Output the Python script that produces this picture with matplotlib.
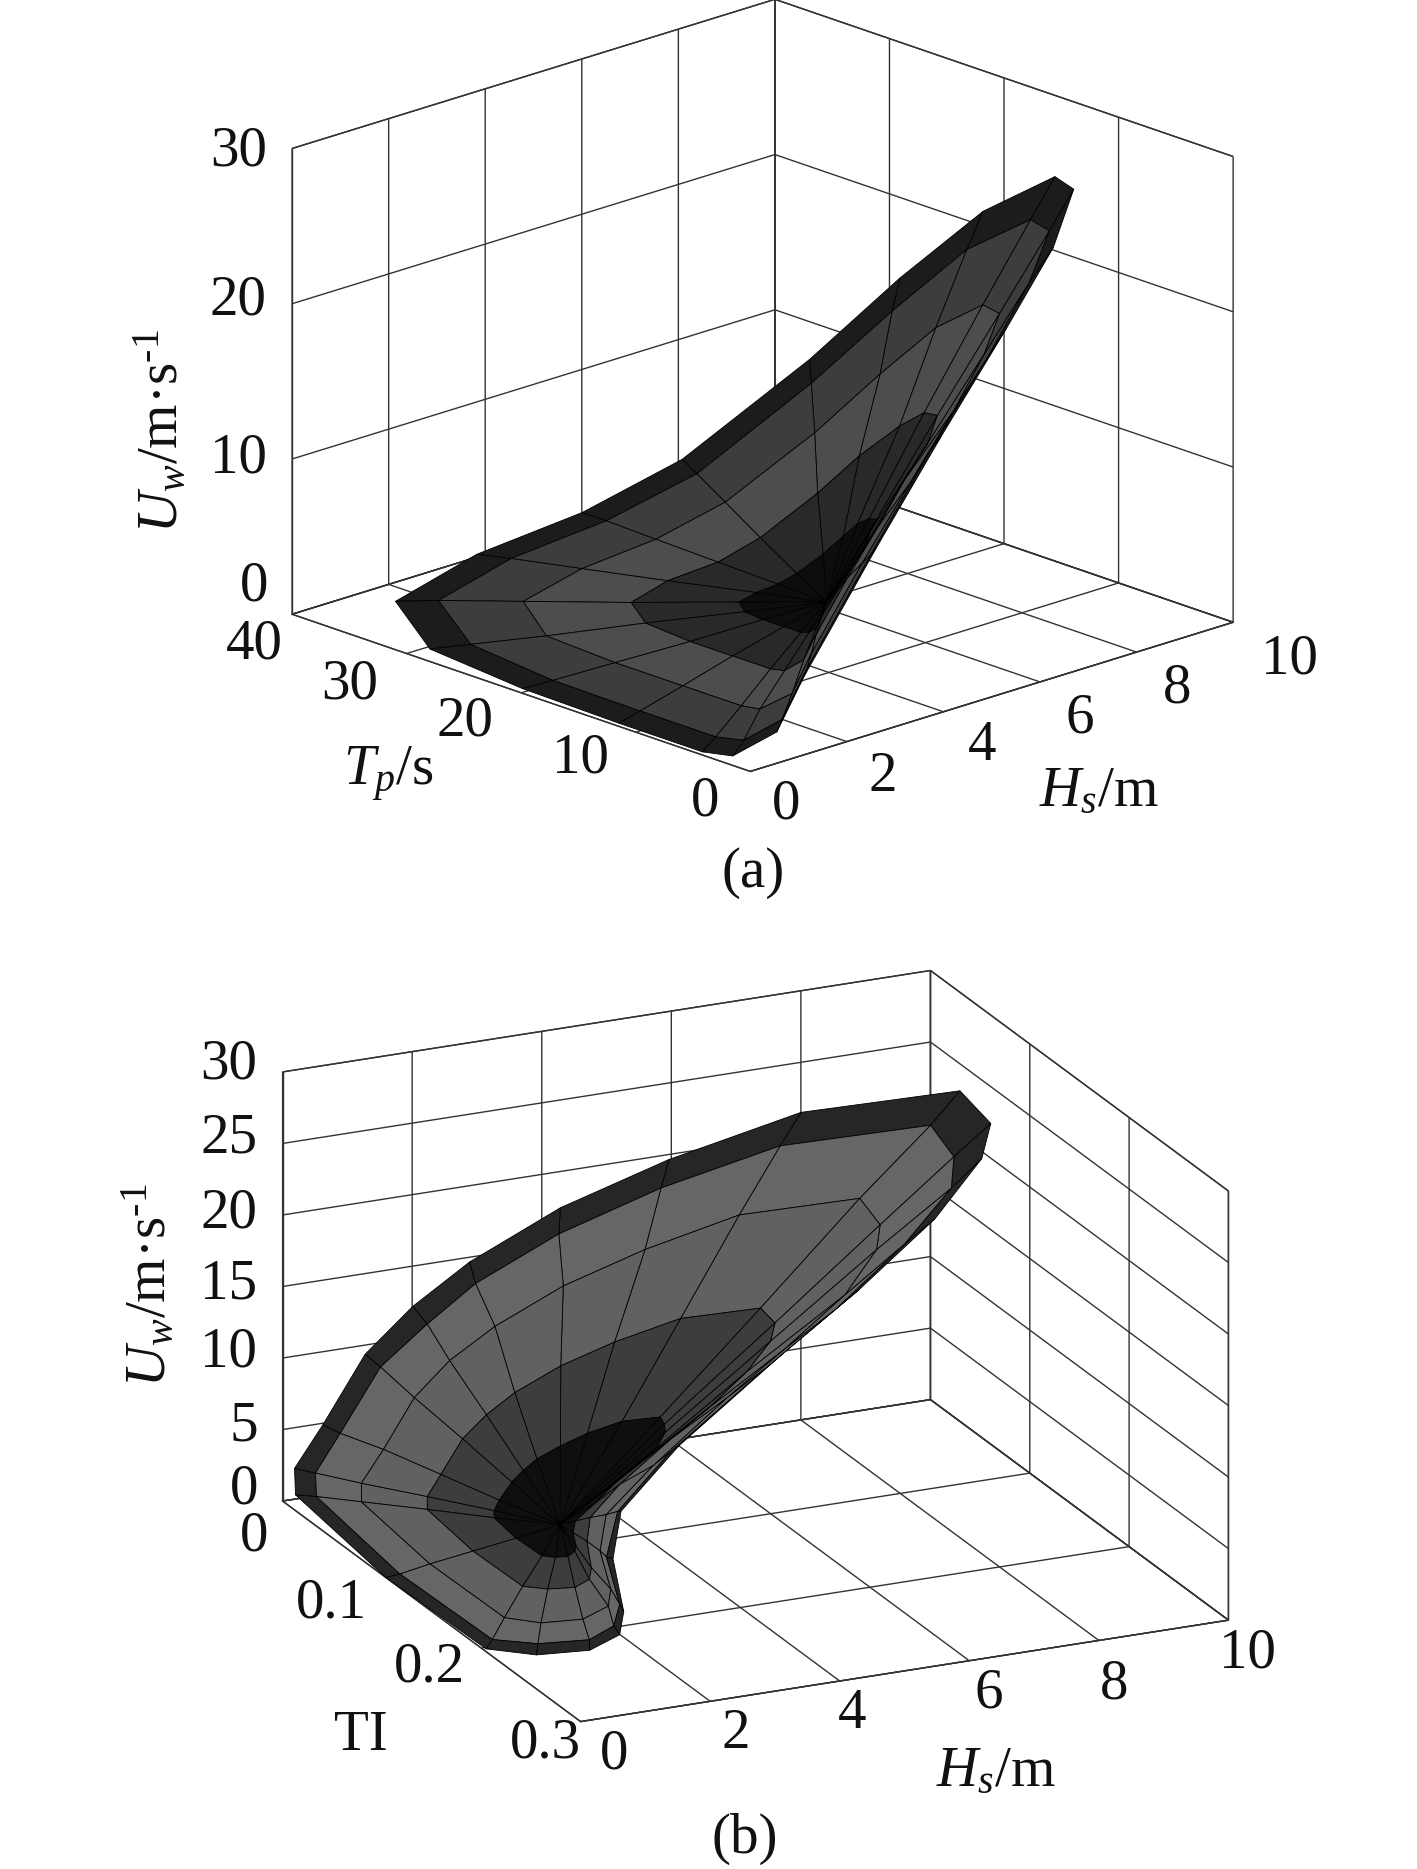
"""
Two 3D surfaces of wind speed against wave parameters.
Node values are hand read off the picture, so the mesh is coarser than the original one.
"""

import numpy as np
import matplotlib
matplotlib.use("Agg")
import matplotlib.pyplot as plt

plt.rcParams["font.family"] = ["Liberation Serif", "DejaVu Serif"]
plt.rcParams["mathtext.fontset"] = "custom"
plt.rcParams["mathtext.rm"] = "Liberation Serif"
plt.rcParams["mathtext.it"] = "Liberation Serif:italic"

# panel (a): rings around the pole, pole first, outline last
a_hs = [
    [3.0]*20,
    [4.2,4.1,4.0,3.8,3.5,3.0,2.6,2.5,2.4,2.4,2.4,2.4,2.5,2.7,2.9,3.1,3.5,3.8,4.0,4.1],
    [5.7,5.5,5.1,4.7,4.1,3.0,2.1,1.8,1.7,1.7,1.7,1.7,1.9,2.3,2.8,3.2,4.1,4.7,5.3,5.5],
    [7.2,6.9,6.4,5.7,4.75,3.0,1.6,1.1,1.0,1.0,1.0,1.0,1.3,1.95,2.65,3.35,4.75,5.7,6.5,7.0],
    [8.4,8.0,7.3,6.4,5.25,3.0,1.2,0.6,0.4,0.4,0.4,0.5,0.85,1.65,2.55,3.45,5.25,6.4,7.5,8.2],
    [9.0,8.6,7.8,6.8,5.5,3.0,1.0,0.3,0.1,0.1,0.1,0.2,0.6,1.5,2.5,3.5,5.5,6.8,8.0,8.8],
]
a_tp = [
    [6.0]*20,
    [6.7,6.8,6.9,7.2,7.2,6.4,5.2,5.4,5.7,7.2,9.0,10.6,11.5,10.8,9.8,9.0,8.4,7.9,7.5,6.9],
    [7.7,7.7,8.0,8.7,8.8,6.9,4.2,4.6,5.4,8.7,12.4,16.3,18.4,16.9,14.6,12.6,11.4,10.3,9.3,8.0],
    [8.6,8.7,9.2,10.2,10.3,7.3,3.1,3.8,5.0,10.1,16.0,22.0,25.3,22.9,19.4,16.3,14.4,12.7,11.2,9.2],
    [9.3,9.4,10.0,11.4,11.6,7.7,2.3,3.1,4.7,11.3,18.9,26.5,30.8,27.8,23.3,19.2,16.8,14.6,12.7,10.1],
    [9.7,9.8,10.5,12.0,12.2,7.9,1.9,2.8,4.6,11.9,20.3,28.8,33.5,30.2,25.2,20.7,18.0,15.6,13.4,10.5],
]
a_uw = [
    [6.5]*20,
    [10.5,9.8,8.9,7.6,6.4,5.5,5.4,5.2,5.2,5.2,5.2,5.3,5.6,6.2,6.8,7.5,8.5,9.5,10.2,10.6],
    [15.5,13.9,11.9,9.0,6.3,4.2,4.1,3.6,3.6,3.6,3.6,3.8,4.4,5.8,7.1,8.8,11.1,13.2,14.8,15.8],
    [20.4,18.0,14.8,10.4,6.2,2.9,2.7,2.0,2.0,2.0,2.0,2.2,3.3,5.4,7.5,10.0,13.6,16.9,19.5,21.0],
    [24.4,21.4,17.2,11.5,6.0,1.8,1.6,0.65,0.65,0.65,0.7,1.0,2.4,5.1,7.8,11.0,15.7,19.8,23.2,25.1],
    [26.4,23.0,18.4,12.0,6.0,1.3,1.1,0.0,0.0,0.0,0.1,0.4,1.9,4.9,7.9,11.5,16.7,21.3,25.0,27.2],
]

# panel (b)
b_hs = [
    [1.8]*24,
    [3.5,3.5,3.4,3.1,2.8,2.5,2.2,2.0,1.85,1.75,1.6,1.5,1.35,1.35,1.35,1.35,1.4,1.5,1.6,1.75,2.05,2.45,3.0,3.5],
    [5.3,5.2,4.9,4.4,3.8,3.1,2.6,2.2,1.9,1.7,1.4,1.15,0.9,0.9,0.9,0.9,1.05,1.2,1.4,1.7,2.3,3.1,4.15,5.2],
    [7.0,6.9,6.5,5.7,4.8,3.8,3.0,2.4,2.0,1.7,1.2,0.8,0.45,0.45,0.45,0.45,0.7,0.9,1.2,1.7,2.6,3.8,5.3,6.9],
    [8.2,8.1,7.5,6.6,5.5,4.2,3.3,2.5,2.0,1.6,1.1,0.6,0.14,0.14,0.14,0.14,0.4,0.7,1.1,1.6,2.7,4.2,6.1,8.1],
    [8.8,8.6,8.0,7.0,5.8,4.4,3.4,2.6,2.0,1.6,1.0,0.5,0.0,0.0,0.0,0.0,0.3,0.6,1.0,1.6,2.8,4.4,6.5,8.6],
]
b_ti = [
    [0.162]*24,
    [.156,.157,.155,.153,.153,.15,.151,.162,.175,.18,.183,.177,.173,.147,.125,.125,.127,.133,.138,.142,.146,.147,.146,.152],
    [.15,.152,.148,.143,.143,.137,.14,.163,.187,.198,.203,.192,.183,.133,.087,.087,.091,.103,.114,.123,.13,.132,.13,.142],
    [.145,.148,.142,.134,.135,.125,.13,.163,.2,.217,.224,.208,.194,.119,.05,.05,.056,.074,.09,.103,.113,.117,.114,.131],
    [.141,.145,.137,.127,.128,.116,.122,.163,.209,.229,.237,.218,.202,.109,.025,.024,.032,.053,.074,.09,.102,.107,.103,.124],
    [.139,.143,.135,.124,.125,.112,.119,.163,.213,.235,.244,.223,.205,.104,.013,.012,.021,.044,.066,.084,.097,.102,.098,.121],
]
b_uw = [
    [5.4]*24,
    [10.9,10.4,9.3,8.1,7.2,5.7,4.8,4.7,4.5,4.5,4.4,4.1,4.1,4.0,4.3,4.8,5.6,7.1,8.1,9.0,9.9,10.55,10.95,11.2],
    [16.4,15.3,13.2,10.8,9.0,6.0,4.2,4.0,3.6,3.5,3.4,2.9,2.8,2.7,3.25,4.15,5.8,8.8,10.9,12.7,14.5,15.7,16.5,17.1],
    [21.8,20.3,17.1,13.5,10.8,6.2,3.6,3.2,2.7,2.6,2.4,1.6,1.5,1.4,2.2,3.5,6.0,10.4,13.6,16.3,19.0,20.9,22.1,23.0],
    [25.5,23.6,19.7,15.3,12.0,6.4,3.2,2.7,2.1,1.9,1.7,0.8,0.6,0.4,1.5,3.1,6.1,11.6,15.4,18.7,22.0,24.4,25.8,26.9],
    [27.3,25.2,21.0,16.2,12.6,6.5,3.0,2.5,1.8,1.6,1.4,0.35,0.2,0.0,1.1,2.9,6.2,12.1,16.3,19.9,23.5,26.0,27.6,28.8],
]

hs_ticks = [0, 2, 4, 6, 8, 10]
tp_ticks = [0, 10, 20, 30, 40]
ti_ticks = [0, 0.1, 0.2, 0.3]
uw_ticks_a = [0, 10, 20, 30]
uw_ticks_b = [0, 5, 10, 15, 20, 25, 30]

WIDTH, HEIGHT = 1189.0, 1568.0
UW_LABEL = r"$U_w$/m·s$^{\text{-}1}$"


def place(fig, x, y, s, **kw):
    # x, y in pixels of the shrunk reference
    fig.text(x/WIDTH, 1 - y/HEIGHT, s, ha="center", va="center", color="#111111", **kw)


def draw_surface(fig, cx, cy, xs, ys, zs, xlim, ylim, zlim, xt, yt, zt, elev, azim, aspect, zoom, greys):
    size = 900
    ax = fig.add_axes([cx - size/2/1417, cy - size/2/1869, size/1417, size/1869],
                      projection="3d", proj_type="ortho")
    ax.patch.set_visible(False)
    ax.view_init(elev=elev, azim=azim)
    ax.set_box_aspect(aspect, zoom=zoom)
    ax.set_xlim(*xlim, view_margin=0)
    ax.set_ylim(*ylim, view_margin=0)
    ax.set_zlim(*zlim, view_margin=0)
    ax.set_xticks(xt)
    ax.set_yticks(yt)
    ax.set_zticks(zt)
    ax.set_xticklabels([])
    ax.set_yticklabels([])
    ax.set_zticklabels([])
    for axis in (ax.xaxis, ax.yaxis, ax.zaxis):
        axis.set_pane_color((1, 1, 1, 1))
        axis.pane.set_edgecolor("#333333")
        axis.pane.set_linewidth(1.0)
        axis.line.set_color("#333333")
        axis.line.set_linewidth(1.0)
        axis._axinfo["grid"]["color"] = "#333333"
        axis._axinfo["grid"]["linewidth"] = 1.0
        axis._axinfo["tick"]["inward_factor"] = 0
        axis._axinfo["tick"]["outward_factor"] = 0

    # repeat the first column so that the rings close
    X = np.array(xs)
    Y = np.array(ys)
    Z = np.array(zs)
    X = np.column_stack([X, X[:, 0]])
    Y = np.column_stack([Y, Y[:, 0]])
    Z = np.column_stack([Z, Z[:, 0]])

    colors = np.ones((Z.shape[0] - 1, Z.shape[1] - 1, 4))
    for i, g in enumerate(greys):
        colors[i, :, :3] = g
    ax.plot_surface(X, Y, Z, rstride=1, cstride=1, facecolors=colors, shade=False,
                    edgecolor="black", linewidth=0.6, antialiased=True)
    return ax


fig = plt.figure(figsize=(14.17, 18.69), dpi=100)

draw_surface(fig, 0.5296, 0.7873, a_hs, a_tp, a_uw, (0, 10), (0, 40), (0, 30),
             hs_ticks, tp_ticks, uw_ticks_a, 19, -133.5, (1, 1, 0.74), 1.146,
             [0.05, 0.16, 0.3, 0.24, 0.11])
draw_surface(fig, 0.5246, 0.2733, b_hs, b_ti, b_uw, (0, 10), (0.3, 0), (0, 30),
             hs_ticks, ti_ticks, uw_ticks_b, 19.9, -114.7, (1, 1, 0.64), 1.194,
             [0.06, 0.24, 0.38, 0.4, 0.15])

fs = 41
for v, p in zip(uw_ticks_a, [(213, 492), (200, 385), (200, 252), (200, 127)]):
    place(fig, p[0], p[1], str(v), fontsize=fs)
for v, p in zip(tp_ticks, [(592, 672), (487, 636), (390, 605), (293, 574), (213, 541)]):
    place(fig, p[0], p[1], str(v), fontsize=fs)
for v, p in zip(hs_ticks, [(660, 675), (741, 652), (824, 626), (906, 603), (988, 578), (1082, 553)]):
    place(fig, p[0], p[1], str(v), fontsize=fs)
place(fig, 135, 362, UW_LABEL, fontsize=fs, rotation=90)
place(fig, 326, 650, r"$T_p$/s", fontsize=fs)
place(fig, 922, 665, r"$H_s$/m", fontsize=fs)
place(fig, 632, 732, "(a)", fontsize=fs)

for v, p in zip(uw_ticks_b, [(205, 1250), (205, 1197), (192, 1135), (192, 1078), (192, 1018), (192, 955), (192, 893)]):
    place(fig, p[0], p[1], str(v), fontsize=fs)
for v, p in zip(ti_ticks, [(213, 1289), (278, 1345), (360, 1399), (458, 1463)]):
    place(fig, p[0], p[1], str(v), fontsize=fs)
for v, p in zip(hs_ticks, [(515, 1472), (617, 1455), (715, 1438), (830, 1421), (935, 1413), (1047, 1387)]):
    place(fig, p[0], p[1], str(v), fontsize=fs)
place(fig, 125, 1078, UW_LABEL, fontsize=fs, rotation=90)
place(fig, 303, 1456, "TI", fontsize=fs)
place(fig, 836, 1487, r"$H_s$/m", fontsize=fs)
place(fig, 625, 1543, "(b)", fontsize=fs)

fig.savefig("out.png", dpi=100)
